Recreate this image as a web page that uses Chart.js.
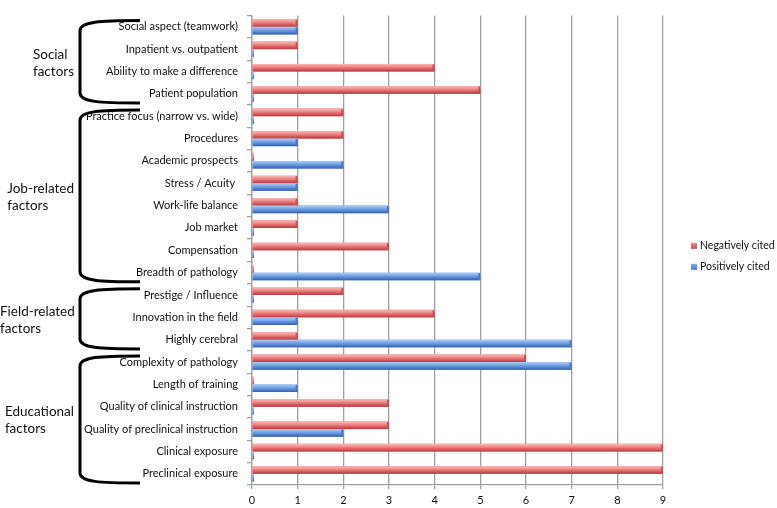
<!DOCTYPE html>
<html>
<head>
<meta charset="utf-8">
<script src="https://cdn.jsdelivr.net/npm/chart.js@4"></script>
<style>
  body { margin: 0; background: #fff; }
  canvas { display: block; }
</style>
</head>
<body>
<canvas id="graphCanvas" width="777" height="508"></canvas>
<script>
var categories = [
    'Social aspect (teamwork)',
    'Inpatient vs. outpatient',
    'Ability to make a difference',
    'Patient population',
    'Practice focus (narrow vs. wide)',
    'Procedures',
    'Academic prospects',
    'Stress / Acuity ',
    'Work-life balance',
    'Job market',
    'Compensation',
    'Breadth of pathology',
    'Prestige / Influence',
    'Innovation in the field',
    'Highly cerebral',
    'Complexity of pathology',
    'Length of training',
    'Quality of clinical instruction',
    'Quality of preclinical instruction',
    'Clinical exposure',
    'Preclinical exposure'
];
var negativelyCited = [1, 1, 4, 5, 2, 2, 0, 1, 1, 1, 3, 0, 2, 4, 1, 6, 0, 3, 3, 9, 9];
var positivelyCited = [1, 0, 0, 0, 0, 1, 2, 1, 3, 0, 0, 5, 0, 1, 7, 7, 1, 0, 2, 0, 0];
var xMin = 0, xMax = 9, xStep = 1;

// brackets on the left: label lines and first/last category index
var groupLabels = [['Social', 'factors'], ['Job-related', 'factors'], ['Field-related', 'factors'], ['Educational', 'factors']];
var groupFirst = [0, 4, 12, 15];
var groupLast = [3, 11, 14, 20];

var FONT = 'Lato';

var shades = {
    red: ['#f8b9b7', '#f09593', '#e4676a', '#cf4d4f', '#b53c3e'],
    blue: ['#b2cdf5', '#86aeea', '#5d8fdc', '#4778c9', '#355fa8']
};

var barShading = {
    id: 'barShading',
    afterDatasetsDraw: function (chart) {
        var ctx = chart.ctx;
        chart.data.datasets.forEach(function (ds, di) {
            var meta = chart.getDatasetMeta(di);
            var s = shades[ds.shade];
            meta.data.forEach(function (bar) {
                var p = bar.getProps(['x', 'y', 'base', 'height'], true);
                var left = Math.min(p.x, p.base), right = Math.max(p.x, p.base);
                var top = p.y - p.height / 2;
                var g = ctx.createLinearGradient(0, top, 0, top + p.height);
                g.addColorStop(0, s[0]);
                g.addColorStop(0.3, s[1]);
                g.addColorStop(0.6, s[2]);
                g.addColorStop(1, s[4]);
                ctx.save();
                ctx.fillStyle = g;
                ctx.fillRect(left, top, right - left, p.height);
                if (right - left > 3) {
                    ctx.fillStyle = s[3];
                    ctx.fillRect(right - 2, top + 0.5, 2, p.height - 1);
                }
                ctx.restore();
            });
        });
    }
};

var groupBraces = {
    id: 'groupBraces',
    afterDraw: function (chart) {
        var ctx = chart.ctx;
        var y = chart.scales.y;
        var band = (y.bottom - y.top) / categories.length;
        ctx.save();
        for (var i = 0; i < groupLabels.length; i++) {
            var top = y.getPixelForValue(groupFirst[i]) - band / 2 + 6;
            var bottom = y.getPixelForValue(groupLast[i]) + band / 2 - 3;
            var vx = 80, ax = 140;
            ctx.strokeStyle = '#000';
            ctx.lineWidth = 3;
            ctx.lineCap = 'butt';
            ctx.beginPath();
            ctx.moveTo(ax, top - 1);
            ctx.bezierCurveTo(100, top - 1, vx, top, vx, top + 9);
            ctx.lineTo(vx, bottom - 9);
            ctx.bezierCurveTo(vx, bottom, 100, bottom + 1, ax, bottom + 1);
            ctx.stroke();

            ctx.font = '13.5px ' + FONT;
            ctx.fillStyle = '#111';
            ctx.textBaseline = 'middle';
            ctx.textAlign = 'left';
            var lines = groupLabels[i];
            var w = 0;
            lines.forEach(function (t) { w = Math.max(w, ctx.measureText(t).width); });
            var mid = (top + bottom) / 2 + 1;
            var lh = 17;
            lines.forEach(function (t, k) {
                ctx.fillText(t, Math.max(0, 74 - w), mid + (k - (lines.length - 1) / 2) * lh);
            });
        }
        ctx.restore();
    }
};

var sideLegend = {
    id: 'sideLegend',
    afterDraw: function (chart) {
        var ctx = chart.ctx;
        var area = chart.chartArea;
        var x = area.right + 28;
        var y0 = (area.top + area.bottom) / 2 - 4.5;
        ctx.save();
        ctx.font = '10.5px ' + FONT;
        ctx.textBaseline = 'middle';
        ctx.textAlign = 'left';
        chart.data.datasets.forEach(function (ds, i) {
            var cy = y0 + i * 21;
            var s = shades[ds.shade];
            var g = ctx.createLinearGradient(0, cy - 3, 0, cy + 3);
            g.addColorStop(0, s[1]);
            g.addColorStop(1, s[3]);
            ctx.fillStyle = g;
            ctx.fillRect(x, cy - 3, 6, 6);
            ctx.fillStyle = '#111';
            ctx.fillText(ds.label, x + 9, cy);
        });
        ctx.restore();
    }
};

var chartdata = {
    labels: categories,
    datasets: [
        {
            label: 'Negatively cited',
            shade: 'red',
            backgroundColor: '#e4676a',
            data: negativelyCited
        },
        {
            label: 'Positively cited',
            shade: 'blue',
            backgroundColor: '#5d8fdc',
            data: positivelyCited
        }
    ]
};

var barGraph = new Chart(document.getElementById('graphCanvas'), {
    type: 'bar',
    data: chartdata,
    plugins: [barShading, groupBraces, sideLegend],
    options: {
        responsive: false,
        animation: false,
        indexAxis: 'y',
        layout: { padding: { top: 8, right: 114, left: 0, bottom: 0 } },
        datasets: {
            bar: {
                categoryPercentage: 0.68,
                barPercentage: 1.0,
                minBarLength: 2,
                borderWidth: 0
            }
        },
        plugins: {
            legend: { display: false },
            tooltip: { enabled: false }
        },
        scales: {
            x: {
                min: xMin,
                max: xMax,
                ticks: {
                    stepSize: xStep,
                    padding: 5,
                    color: '#111',
                    font: { family: FONT, size: 11 }
                },
                grid: {
                    color: '#a0a0a0',
                    lineWidth: 1.3,
                    tickLength: 4
                },
                border: { color: '#a0a0a0', width: 1.3 },
                afterFit: function (scale) { scale.height = 23; }
            },
            y: {
                ticks: {
                    padding: 9,
                    color: '#111',
                    font: { family: FONT, size: 11 },
                    autoSkip: false
                },
                grid: {
                    drawOnChartArea: false,
                    color: '#a0a0a0',
                    tickLength: 5,
                    lineWidth: 1.3
                },
                border: { color: '#a0a0a0', width: 1.3 },
                afterFit: function (scale) { scale.width = 252; }
            }
        }
    }
});
</script>
</body>
</html>
